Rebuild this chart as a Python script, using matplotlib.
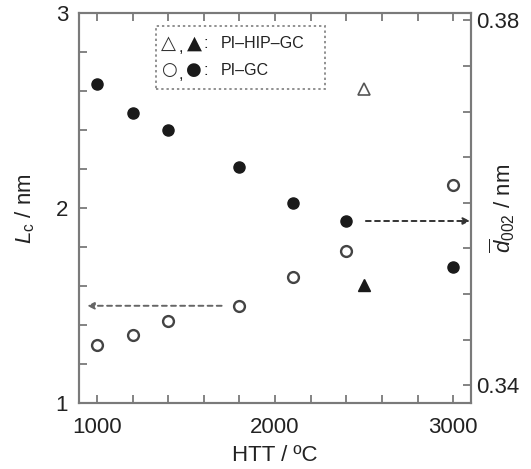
import matplotlib
matplotlib.use("Agg")
import matplotlib.pyplot as plt
from matplotlib.patches import Rectangle
from matplotlib.ticker import MultipleLocator, FixedLocator

plt.rcParams['font.family'] = ['Liberation Sans', 'DejaVu Sans']
plt.rcParams['mathtext.fontset'] = 'custom'
plt.rcParams['mathtext.rm'] = 'Liberation Sans'
plt.rcParams['mathtext.it'] = 'Liberation Sans:italic'

# PI-GC
htt_gc = [1000, 1200, 1400, 1800, 2100, 2400, 3000]
lc_gc = [1.30, 1.35, 1.42, 1.50, 1.65, 1.78, 2.12]
d002_gc = [0.3730, 0.3699, 0.3680, 0.3639, 0.3600, 0.3580, 0.3529]
# PI-HIP-GC
htt_hip = [2500]
lc_hip = [2.61]
d002_hip = [0.3510]

legend_rows = [('△', '▲', 'PI–HIP–GC'), ('○', '●', 'PI–GC')]

gray = '#7a7a7a'
dark = '#1a1a1a'
txt = '#222222'
fs = 16

fig = plt.figure(figsize=(5.31, 4.69), dpi=100)
ax = fig.add_axes([0.149, 0.140, 0.738, 0.832])
ax2 = ax.twinx()

# open symbols -> L_c (left), filled -> d002 (right)
ax.plot(htt_gc, lc_gc, 'o', ms=7.8, mfc='white', mec='#444444', mew=1.7, zorder=3)
ax.plot(htt_hip, lc_hip, '^', ms=8.5, mfc='white', mec='#555555', mew=1.2, zorder=3)
ax2.plot(htt_gc, d002_gc, 'o', ms=8, mfc=dark, mec=dark, zorder=3)
ax2.plot(htt_hip, d002_hip, '^', ms=8.5, mfc=dark, mec=dark, zorder=3)

ax.set_xlim(900, 3100)
ax.set_ylim(1, 3)
ax2.set_ylim(0.338, 0.3808)

ax.xaxis.set_major_locator(FixedLocator([1000, 2000, 3000]))
ax.xaxis.set_minor_locator(MultipleLocator(200))
ax.yaxis.set_major_locator(FixedLocator([1, 2, 3]))
ax.yaxis.set_minor_locator(MultipleLocator(0.2))
ax2.yaxis.set_major_locator(FixedLocator([0.34, 0.38]))
ax2.yaxis.set_minor_locator(MultipleLocator(0.005))
ax2.set_yticklabels(['0.34', '0.38'])

for a in (ax, ax2):
    for s in a.spines.values():
        s.set_color(gray)
        s.set_linewidth(1.5)
    a.tick_params(which='both', direction='in', color=gray, width=1.3,
                  length=6, labelsize=fs, labelcolor=txt)
ax.tick_params(axis='x', which='both', top=True, pad=10)
ax.tick_params(axis='y', which='both', pad=8)
ax2.tick_params(axis='y', which='both', pad=4)

ax.set_xlabel('HTT / ºC', fontsize=fs, color=txt, labelpad=5)
ax.set_ylabel(r'$L_{\rm c}$ / nm', fontsize=fs, color=txt)
ax.yaxis.set_label_coords(-0.107, 0.5)
ax2.set_ylabel(r'$\overline{d}_{\rm 002}$ / nm', fontsize=fs, color=txt)
ax2.yaxis.set_label_coords(1.043, 0.5)

# dashed arrows pointing to the axis each series belongs to
left_x0, left_x1 = 1700, 945
right_x0, right_x1 = 2510, 3095
ax.annotate('', xy=(left_x1, lc_gc[3]), xytext=(left_x0, lc_gc[3]),
            arrowprops=dict(arrowstyle='-|>', color='#666666', lw=1.4,
                            linestyle=(0, (2.5, 2.2)), mutation_scale=10,
                            shrinkA=0, shrinkB=0))
ax2.annotate('', xy=(right_x1, d002_gc[5]), xytext=(right_x0, d002_gc[5]),
             arrowprops=dict(arrowstyle='-|>', color='#333333', lw=1.4,
                             linestyle=(0, (2.5, 2.2)), mutation_scale=10,
                             shrinkA=0, shrinkB=0))

# legend box (dotted frame, symbols + labels)
ax.add_patch(Rectangle((0.196, 0.805), 0.432, 0.162, transform=ax.transAxes,
                       fc='white', ec='#888888', lw=1.3, ls=(0, (1.3, 1.6)),
                       zorder=4))
row_y = [0.923, 0.854]
for (s_open, s_fill, label), y in zip(legend_rows, row_y):
    sym_fs = 14 if s_open == '△' else 13
    ax.text(0.229, y, s_open, transform=ax.transAxes, ha='center', va='center',
            fontsize=sym_fs, color='#333333', family='DejaVu Sans', zorder=5)
    ax.text(0.259, y - 0.012, ',', transform=ax.transAxes, ha='center',
            va='center', fontsize=12, color=txt, zorder=5)
    ax.text(0.293, y, s_fill, transform=ax.transAxes, ha='center', va='center',
            fontsize=sym_fs, color=dark, family='DejaVu Sans', zorder=5)
    ax.text(0.323, y, ':', transform=ax.transAxes, ha='center', va='center',
            fontsize=12, color=txt, zorder=5)
    ax.text(0.362, y, label, transform=ax.transAxes, ha='left', va='center',
            fontsize=11.5, color=txt, zorder=5)

fig.savefig('out.png', dpi=100)
